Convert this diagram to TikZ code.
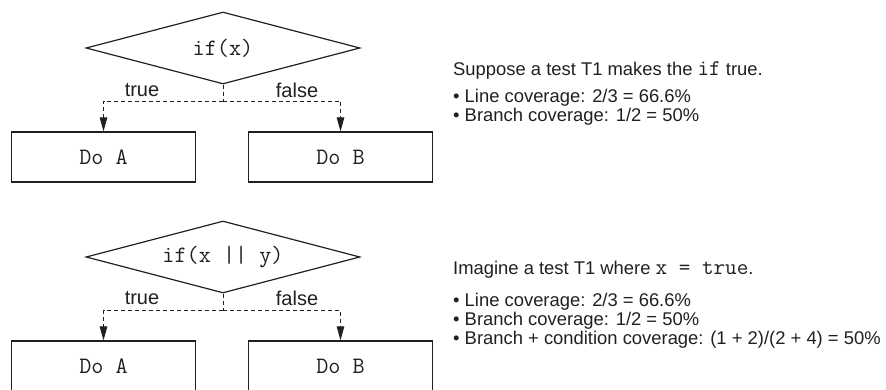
\documentclass[tikz,border=0pt]{standalone}
\usepackage{fontspec}
\setmainfont{Liberation Sans}
\usetikzlibrary{shapes.geometric,arrows.meta}
\definecolor{ink}{HTML}{231F20}
\begin{document}
\begin{tikzpicture}[x=1pt,y=-1pt,
  every node/.style={text=ink},
  dec/.style={draw=ink, line width=1.2pt, shape=diamond, aspect=3.86,
    minimum width=274pt, minimum height=72pt, inner sep=0pt,
    font=\ttfamily\fontsize{23.5}{23.5}\selectfont},
  codebox/.style={draw=ink, line width=1.2pt, minimum width=184pt, minimum height=50pt,
    inner sep=0pt, font=\ttfamily\fontsize{23.5}{23.5}\selectfont},
  lab/.style={font=\fontsize{20}{20}\selectfont, inner sep=0pt},
  txt/.style={anchor=base west, inner sep=0pt, font=\fontsize{18.4}{18.4}\selectfont},
  stub/.style={draw=ink, line width=0.9pt, dash pattern=on 4pt off 3pt},
  conn/.style={stub, -{Triangle[length=14pt,width=7.5pt]}},
]
\useasboundingbox (0,0) rectangle (886,390);

% ---- top diagram
\node[dec] (d1) at (223,48) {if(x)};
\coordinate (j1) at (223,101);
\node[codebox] (a1) at (103.5,157) {Do A};
\node[codebox] (b1) at (340.5,157) {Do B};
\draw[stub] (d1.south) -- (j1);
\draw[conn] (j1) -| (a1.north);
\draw[conn] (j1) -| (b1.north);
\node[lab] (t1) at (142,90) {true};
\node[lab] (f1) at (297,90) {false};

% ---- bottom diagram
\node[dec] (d2) at (223,257) {if(x || y)};
\coordinate (j2) at (223,310);
\node[codebox] (a2) at (103.5,366) {Do A};
\node[codebox] (b2) at (340.5,366) {Do B};
\draw[stub] (d2.south) -- (j2);
\draw[conn] (j2) -| (a2.north);
\draw[conn] (j2) -| (b2.north);
\node[lab] (t2) at (142,298) {true};
\node[lab] (f2) at (297,298) {false};

% ---- right texts
\node[txt] (s1) at (453,76) {Suppose a test T1 makes the {\ttfamily\fontsize{22.5}{22.5}\selectfont if} true.};
\node[txt] (s2) at (453,103) {• Line coverage: 2/3 = 66.6\%};
\node[txt] (s3) at (453,122) {• Branch coverage: 1/2 = 50\%};

\node[txt] (u1) at (453,274) {Imagine a test T1 where {\ttfamily\fontsize{22.5}{22.5}\selectfont x = true}.};
\node[txt] (u2) at (453,306) {• Line coverage: 2/3 = 66.6\%};
\node[txt] (u3) at (453,325) {• Branch coverage: 1/2 = 50\%};
\node[txt] (u4) at (453,344) {• Branch + condition coverage: (1 + 2)/(2 + 4) = 50\%};
\end{tikzpicture}
\end{document}
